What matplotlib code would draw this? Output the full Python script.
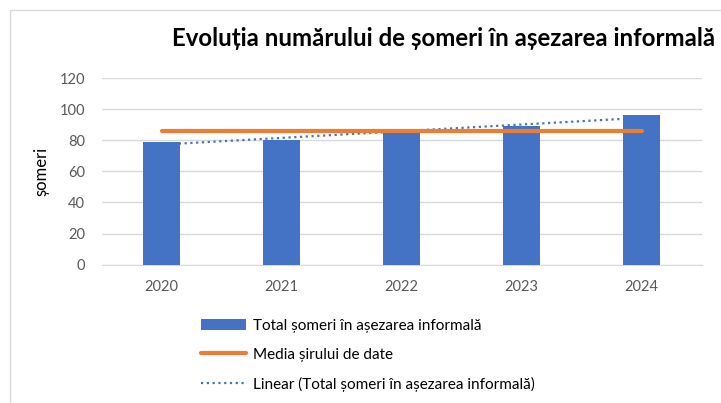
import numpy as np
import matplotlib
matplotlib.use("Agg")
import matplotlib.pyplot as plt
from matplotlib.lines import Line2D
from matplotlib.patches import Patch, Rectangle

plt.rcParams["font.family"] = ["Lato", "DejaVu Sans"]

# date
ani = ["2020", "2021", "2022", "2023", "2024"]
someri = [79, 80, 85, 89, 96]
titlu = "Evoluția numărului de șomeri în așezarea informală"
eticheta_y = "șomeri"
leg_bare = "Total șomeri în așezarea informală"
leg_medie = "Media șirului de date"
leg_trend = "Linear (Total șomeri în așezarea informală)"

ALBASTRU = "#4472C4"; PORTOCALIU = "#ED7D31"; GRILA = "#D9D9D9"; TEXT = "#595959"

W, H = 721, 403
fig = plt.figure(figsize=(W/100, H/100), dpi=100)
# cadrul graficului (taiat la dreapta si jos)
fig.patches.append(Rectangle((10/W, -0.1), 1.2, 1 - 10/H + 0.1, transform=fig.transFigure,
                             fill=False, edgecolor=GRILA, lw=1))

ax = fig.add_axes([101.5/W, 1 - 264.7/H, 600/W, (264.7 - 78)/H])
x = np.arange(len(ani))
y = np.array(someri, dtype=float)

# trend liniar (in spatele barelor)
a, b = np.polyfit(x, y, 1)
ax.plot(x, a*x + b, color=ALBASTRU, lw=1.6, ls=(0, (1, 1.6)), zorder=2)
ax.bar(x, y, width=0.31, color=ALBASTRU, zorder=3)
medie = y.mean()
ax.plot([x[0], x[-1]], [medie, medie], color=PORTOCALIU, lw=3, solid_capstyle="round", zorder=4)

ax.set_xlim(-0.5, len(ani) - 0.5)
ax.set_ylim(0, 120)
ax.set_yticks(range(0, 121, 20))
ax.set_xticks(x, ani)
ax.grid(axis="y", color=GRILA, lw=1)
ax.set_axisbelow(True)
for s in ["top", "right", "left"]:
    ax.spines[s].set_visible(False)
ax.spines["bottom"].set_color(GRILA)
ax.tick_params(axis="both", length=0, labelsize=10.5, labelcolor=TEXT)
ax.tick_params(axis="y", pad=12)
ax.tick_params(axis="x", pad=11)
ax.set_ylabel(eticheta_y, fontsize=12, color="#000000", labelpad=7)

fig.text(444/W, 1 - 38/H, titlu, ha="center", va="center", fontsize=17.3, fontweight="bold")

handles = [Patch(facecolor=ALBASTRU),
           Line2D([], [], color=PORTOCALIU, lw=3, solid_capstyle="round"),
           Line2D([], [], color=ALBASTRU, lw=1.6, ls=(0, (1, 1.6)))]
fig.legend(handles, [leg_bare, leg_medie, leg_trend], loc="upper left",
           bbox_to_anchor=(193/W, 1 - 311/H), frameon=False, fontsize=11,
           handlelength=3.0, handletextpad=0.4, labelspacing=0.98, borderpad=0)

fig.savefig("out.png", dpi=100)
